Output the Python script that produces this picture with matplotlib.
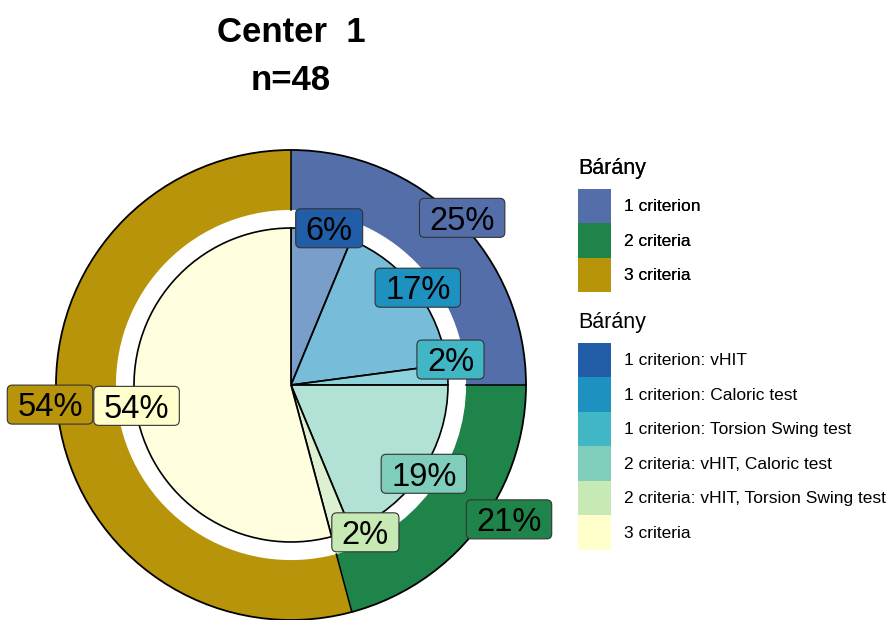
import numpy as np
import matplotlib
matplotlib.use('Agg')
import matplotlib.pyplot as plt
from matplotlib.patches import Wedge, Circle, Patch, FancyBboxPatch

plt.rcParams['font.family'] = ['Liberation Sans', 'DejaVu Sans']

# ---- data (n = 48) ----
outer_labels = ["1 criterion", "2 criteria", "3 criteria"]
outer_counts = [12, 10, 26]
outer_colors = ["#546eaa", "#1e844a", "#b8940a"]

inner_labels = ["1 criterion: vHIT", "1 criterion: Caloric test",
                "1 criterion: Torsion Swing test",
                "2 criteria: vHIT, Caloric test",
                "2 criteria: vHIT, Torsion Swing test", "3 criteria"]
inner_counts = [3, 8, 1, 9, 1, 26]
inner_colors = ["#225ea8", "#1d91c0", "#41b6c4", "#7fcdbb", "#c7e9b4", "#ffffcc"]

N = sum(outer_counts)
R_OUT, R_RING, R_PIE = 1.0, 0.745, 0.668

# label nudges (px) to mimic the repelled label placement
outer_nudge = [(0, -4), (26, 13), (-1, 12)]
inner_nudge = [(7, 0), (0, 0), (0, 15), (0, 0), (23, 4), (4, 0)]

W, H = 893, 620
fig = plt.figure(figsize=(W / 100, H / 100), dpi=100)

# pie axes: centre at (291, 385) px, outer radius 235 px
cx, cy, rpx = 291, 385, 235
lim = 1.2
side = 2 * lim * rpx
ax = fig.add_axes([(cx - side / 2) / W, (H - cy - side / 2) / H, side / W, side / H])
ax.set_xlim(-lim, lim)
ax.set_ylim(-lim, lim)
ax.set_aspect('equal')
ax.axis('off')
px = 1 / rpx  # data units per pixel


def to_deg(frac):
    # clockwise from 12 o'clock -> matplotlib degrees
    return 90 - 360 * frac


# outer ring
cum = np.cumsum([0] + outer_counts) / N
for i, c in enumerate(outer_counts):
    ax.add_patch(Wedge((0, 0), R_OUT, to_deg(cum[i + 1]), to_deg(cum[i]),
                       width=R_OUT - R_RING, fc=outer_colors[i], ec='none'))
    a = np.deg2rad(to_deg(cum[i]))
    ax.plot([R_RING * np.cos(a), R_OUT * np.cos(a)],
            [R_RING * np.sin(a), R_OUT * np.sin(a)], color='black', lw=1.1)
ax.add_patch(Circle((0, 0), R_OUT, fc='none', ec='black', lw=1.3))

# inner pie
icum = np.cumsum([0] + inner_counts) / N
for i, c in enumerate(inner_counts):
    ax.add_patch(Wedge((0, 0), R_PIE, to_deg(icum[i + 1]), to_deg(icum[i]),
                       fc=inner_colors[i], alpha=0.6, ec='none'))
    ax.add_patch(Wedge((0, 0), R_PIE, to_deg(icum[i + 1]), to_deg(icum[i]),
                       fc='none', ec='black', lw=1.2))

# labels (text first, boxes sized from the text extents afterwards)
FS = 23.5
cap = 0.72 * FS * 100 / 72  # digit height in px
labels = []


def label(frac_mid, r, txt, color, nudge):
    a = np.deg2rad(to_deg(frac_mid))
    x = r * np.cos(a) + nudge[0] * px
    y = r * np.sin(a) + nudge[1] * px
    t = ax.text(x, y - cap / 2 * px, txt, ha='center', va='baseline',
                fontsize=FS, color='black', clip_on=False, zorder=11)
    labels.append((t, x, y, color))


for i, c in enumerate(outer_counts):
    label((cum[i] + cum[i + 1]) / 2, 1.03, f"{round(100 * c / N)}%",
          outer_colors[i], outer_nudge[i])
for i, c in enumerate(inner_counts):
    label((icum[i] + icum[i + 1]) / 2, 0.68, f"{round(100 * c / N)}%",
          inner_colors[i], inner_nudge[i])

fig.canvas.draw()
rend = fig.canvas.get_renderer()
for t, x, y, color in labels:
    bb = t.get_window_extent(rend)
    w = (bb.width + 20) * px
    h = 39 * px
    ax.add_patch(FancyBboxPatch((x - w / 2, y - h / 2), w, h,
                                boxstyle=f'round,pad=0,rounding_size={5 * px}',
                                fc=color, ec='#333333', lw=0.8, zorder=10,
                                clip_on=False))

# title
fig.text(cx / W, 1 - 32 / H, "Center  1", ha='center', va='center',
         fontsize=25, fontweight='bold')
fig.text(cx / W, 1 - 80 / H, "n=48", ha='center', va='center',
         fontsize=25, fontweight='bold')

# legends
leg_kw = dict(frameon=False, loc='upper left', fontsize=12.5,
              title_fontsize=15.5, handlelength=1.9, handleheight=2.68,
              labelspacing=0, handletextpad=0.75, borderpad=0,
              borderaxespad=0, alignment='left')
h1 = [Patch(fc=c, ec='none') for c in outer_colors]
leg1 = fig.legend(h1, outer_labels, title="Bárány",
                  bbox_to_anchor=(578 / W, 1 - 158 / H), **leg_kw)
leg1._legend_box.sep = 7
fig.add_artist(leg1)
h2 = [Patch(fc=c, ec='none') for c in inner_colors]
leg2 = fig.legend(h2, inner_labels, title="Bárány",
                  bbox_to_anchor=(578 / W, 1 - 312 / H), **leg_kw)
leg2._legend_box.sep = 7

fig.savefig("out.png", dpi=100)
